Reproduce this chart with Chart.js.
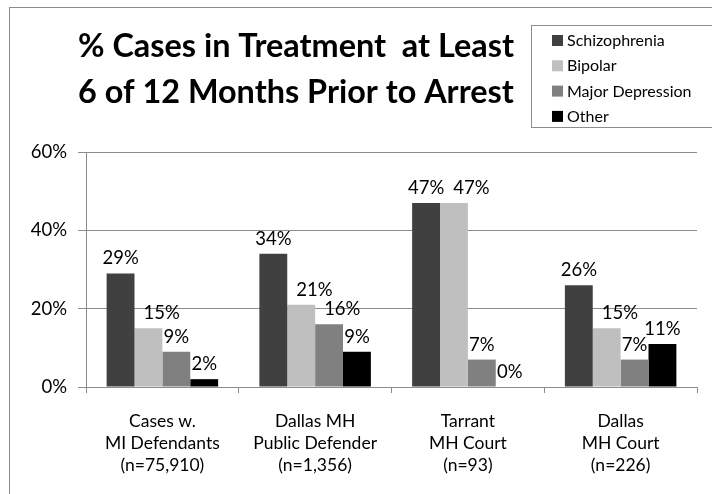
<!DOCTYPE html>
<html>
<head>
<meta charset="utf-8">
<script src="https://cdn.jsdelivr.net/npm/chart.js@4.4.0/dist/chart.umd.min.js"></script>
<style>
  html, body { margin: 0; padding: 0; background: #fff; }
  #wrap { position: relative; width: 712px; height: 494px; overflow: hidden; }
  #frame { position: absolute; left: 9px; top: 7px; width: 760px; height: 560px; border: 1px solid #8c8c8c; }
  #myChart { position: absolute; left: 0; top: 0; }
</style>
</head>
<body>
<div id="wrap">
  <div id="frame"></div>
  <canvas id="myChart" width="712" height="494"></canvas>
</div>
<script>
// categories (multi-line tick labels)
const groups = [
    ['Cases w.', 'MI Defendants', '(n=75,910)'],
    ['Dallas MH', 'Public Defender', '(n=1,356)'],
    ['Tarrant', 'MH Court', '(n=93)'],
    ['Dallas', 'MH Court', '(n=226)']
];
const diagnoses = ['Schizophrenia', 'Bipolar', 'Major Depression', 'Other'];

// % of cases, one array per diagnosis
const schizophrenia = [29, 34, 47, 26];
const bipolar = [15, 21, 47, 15];
const majorDepression = [9, 16, 7, 7];
const other = [2, 9, 0, 11];

const yTicks = [0, 20, 40, 60];
const titleLines = ['% Cases in Treatment  at Least', '6 of 12 Months Prior to Arrest'];

const colors = ['#404040', '#bfbfbf', '#808080', '#000000'];
const FONT = 'Lato';
const GRID = '#8c8c8c';

function overlaps(a, b) {
    return a.l < b.r && a.r > b.l && a.t < b.b && a.b > b.t;
}

// bar labels (pushed right when they would sit on a neighbour), title, boxed legend
const overlay = {
    id: 'overlay',
    afterDatasetsDraw(chart) {
        const ctx = chart.ctx;
        const n = chart.data.labels.length;
        ctx.save();
        ctx.fillStyle = '#000';
        ctx.textAlign = 'center';
        ctx.textBaseline = 'alphabetic';
        ctx.font = '18.5px ' + FONT;
        for (let j = 0; j < n; j++) {
            const taken = [];
            chart.data.datasets.forEach((ds, i) => {
                const bar = chart.getDatasetMeta(i).data[j];
                const txt = ds.data[j] + '%';
                const w = ctx.measureText(txt).width;
                const base = bar.y - 9;
                let box = { l: bar.x - w / 2, r: bar.x + w / 2, t: base - 14, b: base };
                for (const ob of taken) {
                    if (overlaps(box, ob)) {
                        box = { l: ob.r + 9, r: ob.r + 9 + w, t: box.t, b: box.b };
                    }
                }
                ctx.fillText(txt, (box.l + box.r) / 2, base);
                taken.push({ l: bar.x - bar.width / 2, r: bar.x + bar.width / 2, t: bar.y, b: bar.base });
                taken.push(box);
            });
        }

        // title
        ctx.font = 'bold 32.4px ' + FONT;
        titleLines.forEach((t, k) => ctx.fillText(t, 296, 57 + k * 46));

        // legend
        ctx.strokeStyle = GRID;
        ctx.lineWidth = 1;
        ctx.strokeRect(531.5, 25.5, 300, 102);
        ctx.font = '16px ' + FONT;
        ctx.textAlign = 'left';
        ctx.textBaseline = 'middle';
        chart.data.datasets.forEach((ds, i) => {
            const y = 40 + i * 25.3;
            ctx.fillStyle = ds.backgroundColor;
            ctx.fillRect(552, y - 5, 11, 11);
            ctx.fillStyle = '#000';
            ctx.fillText(ds.label, 567, y + 1);
        });
        ctx.restore();
    }
};

new Chart(document.getElementById('myChart'), {
    type: 'bar',
    data: {
        labels: groups,
        datasets: [
            { label: diagnoses[0], data: schizophrenia, backgroundColor: colors[0] },
            { label: diagnoses[1], data: bipolar, backgroundColor: colors[1] },
            { label: diagnoses[2], data: majorDepression, backgroundColor: colors[2] },
            { label: diagnoses[3], data: other, backgroundColor: colors[3] }
        ]
    },
    options: {
        responsive: false,
        animation: false,
        devicePixelRatio: 1,
        layout: { padding: { top: 152, right: 15, left: 0, bottom: 0 } },
        datasets: { bar: { categoryPercentage: 0.73, barPercentage: 1.0 } },
        plugins: {
            legend: { display: false },
            title: { display: false },
            tooltip: { enabled: false }
        },
        scales: {
            x: {
                grid: { drawOnChartArea: false, color: GRID, tickLength: 6, offset: true },
                border: { color: GRID },
                ticks: {
                    color: '#000', maxRotation: 0, autoSkip: false, padding: 17,
                    font: { family: FONT, size: 17.5, lineHeight: '22px' }
                },
                afterFit: s => { s.height = 107; }
            },
            y: {
                min: 0, max: 60,
                afterBuildTicks: s => { s.ticks = yTicks.map(v => ({ value: v })); },
                grid: { color: GRID, tickLength: 8 },
                border: { color: GRID },
                ticks: {
                    color: '#000', padding: 11,
                    font: { family: FONT, size: 18.5 },
                    callback: v => v + '%'
                },
                afterFit: s => { s.width = 86; }
            }
        }
    },
    plugins: [overlay]
});
</script>
</body>
</html>
